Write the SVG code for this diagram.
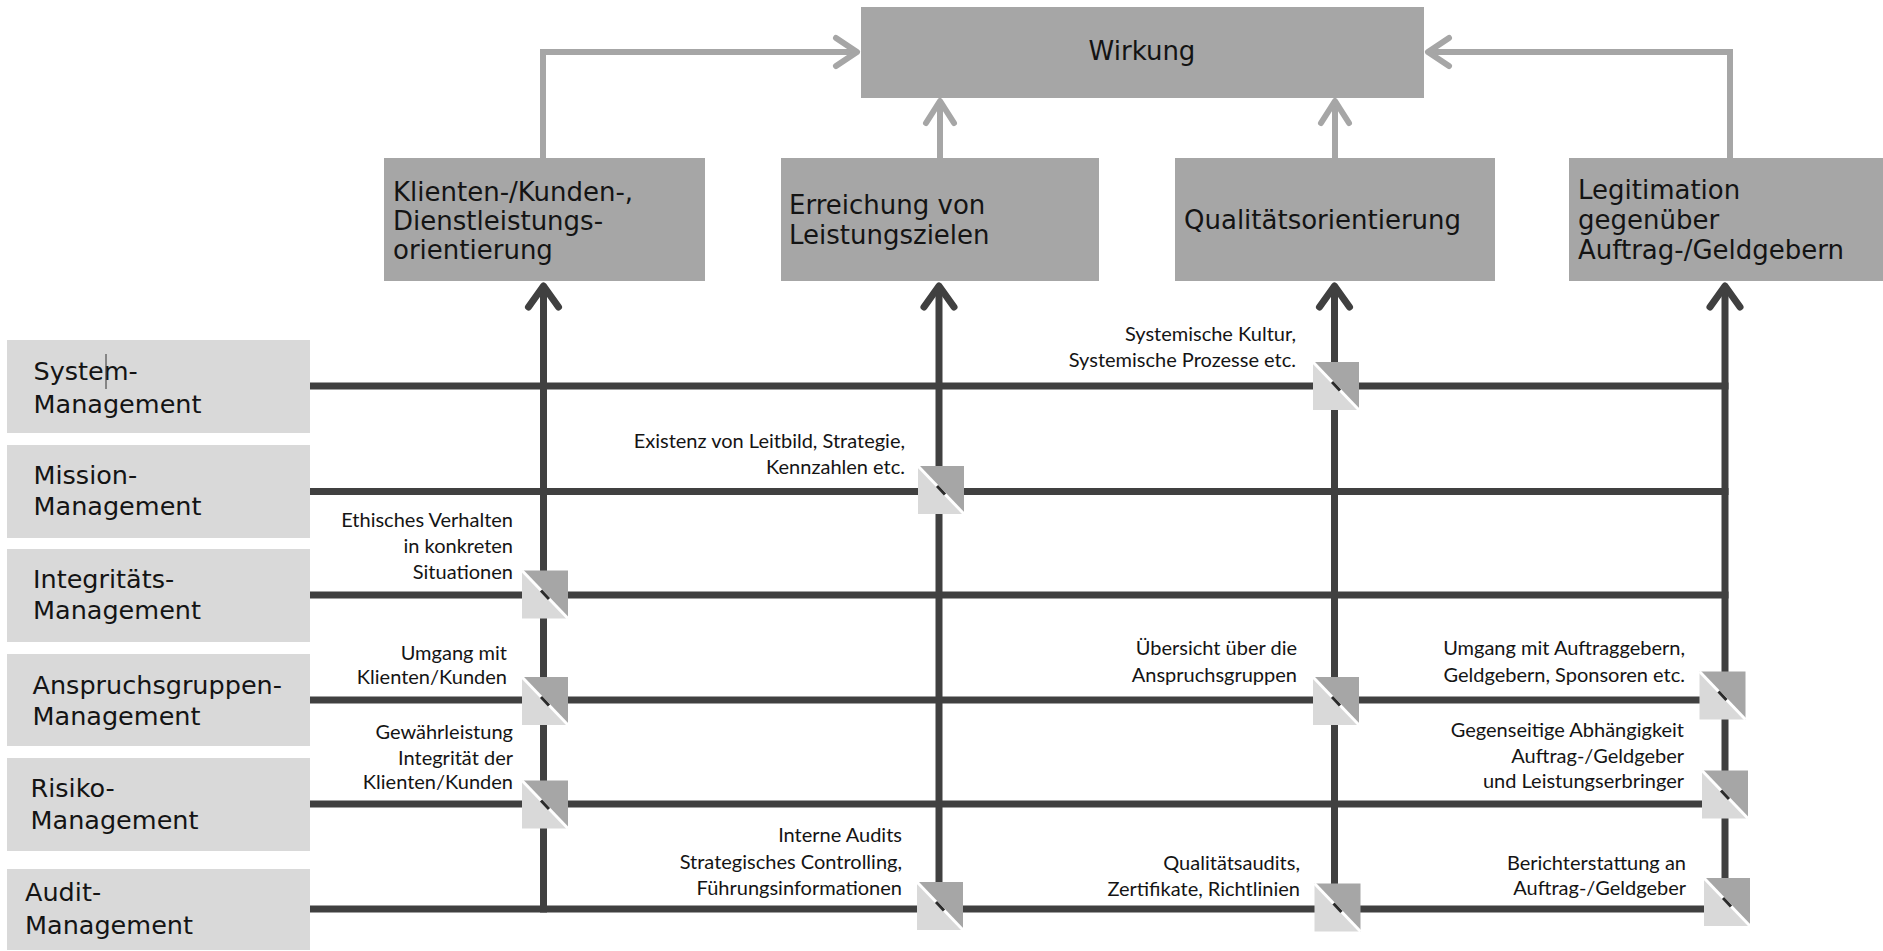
<svg xmlns="http://www.w3.org/2000/svg" xmlns:xlink="http://www.w3.org/1999/xlink" width="1883" height="951" viewBox="0 0 1883 951">
<style>
.box{fill:#a6a6a6}
.lbox{fill:#d9d9d9}
.bt{font-family:"DejaVu Sans",Verdana,sans-serif;font-size:26px;fill:#141414}
.lt{font-family:"DejaVu Sans",Verdana,sans-serif;font-size:25.5px;fill:#141414}
.note{font-family:Lato,"Open Sans",sans-serif;font-size:20px;fill:#141414;text-anchor:end}
.gl{stroke:#a6a6a6;stroke-width:6;fill:none}
.gh{stroke:#a6a6a6;stroke-width:6;fill:none;stroke-linecap:round;stroke-linejoin:round}
.dl{stroke:#404040;stroke-width:7;fill:none}
.dh{stroke:#404040;stroke-width:7;fill:none;stroke-linecap:round;stroke-linejoin:round}
</style>
<defs>
<g id="sq">
<polygon points="0,0 46,0 46,48" fill="#a6a6a6"/>
<polygon points="0,0 0,48 46,48" fill="#d9d9d9"/>
<line x1="0" y1="0" x2="46" y2="48" stroke="#ffffff" stroke-width="3"/>
<line x1="19" y1="20" x2="27" y2="28.5" stroke="#2a2a2a" stroke-width="3"/>
</g>
</defs>
<rect width="1883" height="951" fill="#ffffff"/>

<g id="connectors">
<!-- gray arrows to Wirkung -->
<path class="gl" d="M543,158 V52 H857"/>
<polyline class="gh" points="836,38 857,52 836,66"/>
<path class="gl" d="M940,158 V101"/>
<polyline class="gh" points="926,123 940,101 954,123"/>
<path class="gl" d="M1335,158 V101"/>
<polyline class="gh" points="1321,123 1335,101 1349,123"/>
<path class="gl" d="M1730,158 V52 H1428"/>
<polyline class="gh" points="1449,38 1428,52 1449,66"/>
<!-- horizontal dark lines -->
<line class="dl" x1="310" y1="386" x2="1728.5" y2="386"/>
<line class="dl" x1="310" y1="491.5" x2="1728.5" y2="491.5"/>
<line class="dl" x1="310" y1="595" x2="1728.5" y2="595"/>
<line class="dl" x1="310" y1="700" x2="1728.5" y2="700"/>
<line class="dl" x1="310" y1="804" x2="1728.5" y2="804"/>
<line class="dl" x1="310" y1="909" x2="1728.5" y2="909"/>
<!-- vertical dark lines -->
<line class="dl" x1="543.5" y1="286" x2="543.5" y2="912.5"/>
<line class="dl" x1="939" y1="286" x2="939" y2="912.5"/>
<line class="dl" x1="1334.5" y1="286" x2="1334.5" y2="912.5"/>
<line class="dl" x1="1725" y1="286" x2="1725" y2="912.5"/>
<polyline class="dh" points="528.5,307 543.5,286 558.5,307"/>
<polyline class="dh" points="924,307 939,286 954,307"/>
<polyline class="dh" points="1319.5,307 1334.5,286 1349.5,307"/>
<polyline class="dh" points="1710,307 1725,286 1740,307"/>
</g>

<g id="wirkung">
<rect class="box" x="861" y="7" width="563" height="91"/>
<text class="bt" x="1142" y="60" text-anchor="middle">Wirkung</text>
</g>

<g id="klienten">
<rect class="box" x="384" y="158" width="321" height="123"/>
<text class="bt" x="393" y="200.5">Klienten-/Kunden-,</text>
<text class="bt" x="393" y="229.5">Dienstleistungs-</text>
<text class="bt" x="393" y="258.5">orientierung</text>
</g>

<g id="erreichung">
<rect class="box" x="781" y="158" width="318" height="123"/>
<text class="bt" x="789" y="213.5">Erreichung von</text>
<text class="bt" x="789" y="244">Leistungszielen</text>
</g>

<g id="qualitaet">
<rect class="box" x="1175" y="158" width="320" height="123"/>
<text class="bt" x="1184" y="229">Qualitätsorientierung</text>
</g>

<g id="legitimation">
<rect class="box" x="1569" y="158" width="314" height="123"/>
<text class="bt" x="1578" y="199">Legitimation</text>
<text class="bt" x="1578" y="229">gegenüber</text>
<text class="bt" x="1578" y="259">Auftrag-/Geldgebern</text>
</g>

<g id="system">
<rect class="lbox" x="7" y="340" width="303" height="93"/>
<text class="lt" x="33.5" y="380">System-</text>
<text class="lt" x="33.5" y="412.5">Management</text>
<line x1="106" y1="354" x2="106" y2="389" stroke="#333333" stroke-width="1"/>
</g>

<g id="mission">
<rect class="lbox" x="7" y="445" width="303" height="93"/>
<text class="lt" x="33.5" y="484">Mission-</text>
<text class="lt" x="33.5" y="515">Management</text>
</g>

<g id="integritaet">
<rect class="lbox" x="7" y="549" width="303" height="93"/>
<text class="lt" x="33" y="587.5">Integritäts-</text>
<text class="lt" x="33" y="618.5">Management</text>
</g>

<g id="anspruch">
<rect class="lbox" x="7" y="654" width="303" height="92"/>
<text class="lt" x="32.5" y="694">Anspruchsgruppen-</text>
<text class="lt" x="32.5" y="725">Management</text>
</g>

<g id="risiko">
<rect class="lbox" x="7" y="758" width="303" height="93"/>
<text class="lt" x="30.5" y="796.5">Risiko-</text>
<text class="lt" x="30.5" y="828.5">Management</text>
</g>

<g id="audit">
<rect class="lbox" x="7" y="869" width="303" height="81"/>
<text class="lt" x="25" y="901">Audit-</text>
<text class="lt" x="25" y="933.5">Management</text>
</g>

<g id="crossings">
<use xlink:href="#sq" href="#sq" x="1313" y="362"/>
<use xlink:href="#sq" href="#sq" x="918" y="466"/>
<use xlink:href="#sq" href="#sq" x="522" y="570.5"/>
<use xlink:href="#sq" href="#sq" x="522" y="677"/>
<use xlink:href="#sq" href="#sq" x="1313" y="677"/>
<use xlink:href="#sq" href="#sq" x="1699.5" y="671.5"/>
<use xlink:href="#sq" href="#sq" x="522" y="780.5"/>
<use xlink:href="#sq" href="#sq" x="1702" y="770.5"/>
<use xlink:href="#sq" href="#sq" x="917" y="882"/>
<use xlink:href="#sq" href="#sq" x="1314.5" y="883.5"/>
<use xlink:href="#sq" href="#sq" x="1704" y="878"/>
</g>

<g id="labels">
<text class="note" x="1296" y="341">Systemische Kultur,</text>
<text class="note" x="1296" y="367">Systemische Prozesse etc.</text>
<text class="note" x="905" y="448">Existenz von Leitbild, Strategie,</text>
<text class="note" x="905" y="474">Kennzahlen etc.</text>
<text class="note" x="513" y="527">Ethisches Verhalten</text>
<text class="note" x="513" y="553">in konkreten</text>
<text class="note" x="513" y="579">Situationen</text>
<text class="note" x="507" y="659.5">Umgang mit</text>
<text class="note" x="507" y="684">Klienten/Kunden</text>
<text class="note" x="513" y="738.5">Gewährleistung</text>
<text class="note" x="513" y="764.5">Integrität der</text>
<text class="note" x="513" y="789">Klienten/Kunden</text>
<text class="note" x="1297" y="655">Übersicht über die</text>
<text class="note" x="1297" y="681.5">Anspruchsgruppen</text>
<text class="note" x="1685" y="655">Umgang mit Auftraggebern,</text>
<text class="note" x="1685" y="681.5">Geldgebern, Sponsoren etc.</text>
<text class="note" x="1684" y="737">Gegenseitige Abhängigkeit</text>
<text class="note" x="1684" y="763">Auftrag-/Geldgeber</text>
<text class="note" x="1684" y="788">und Leistungserbringer</text>
<text class="note" x="902" y="842">Interne Audits</text>
<text class="note" x="902" y="868.5">Strategisches Controlling,</text>
<text class="note" x="902" y="894.5">Führungsinformationen</text>
<text class="note" x="1300" y="870">Qualitätsaudits,</text>
<text class="note" x="1300" y="896">Zertifikate, Richtlinien</text>
<text class="note" x="1686" y="869.5">Berichterstattung an</text>
<text class="note" x="1686" y="895">Auftrag-/Geldgeber</text>
</g>
</svg>
